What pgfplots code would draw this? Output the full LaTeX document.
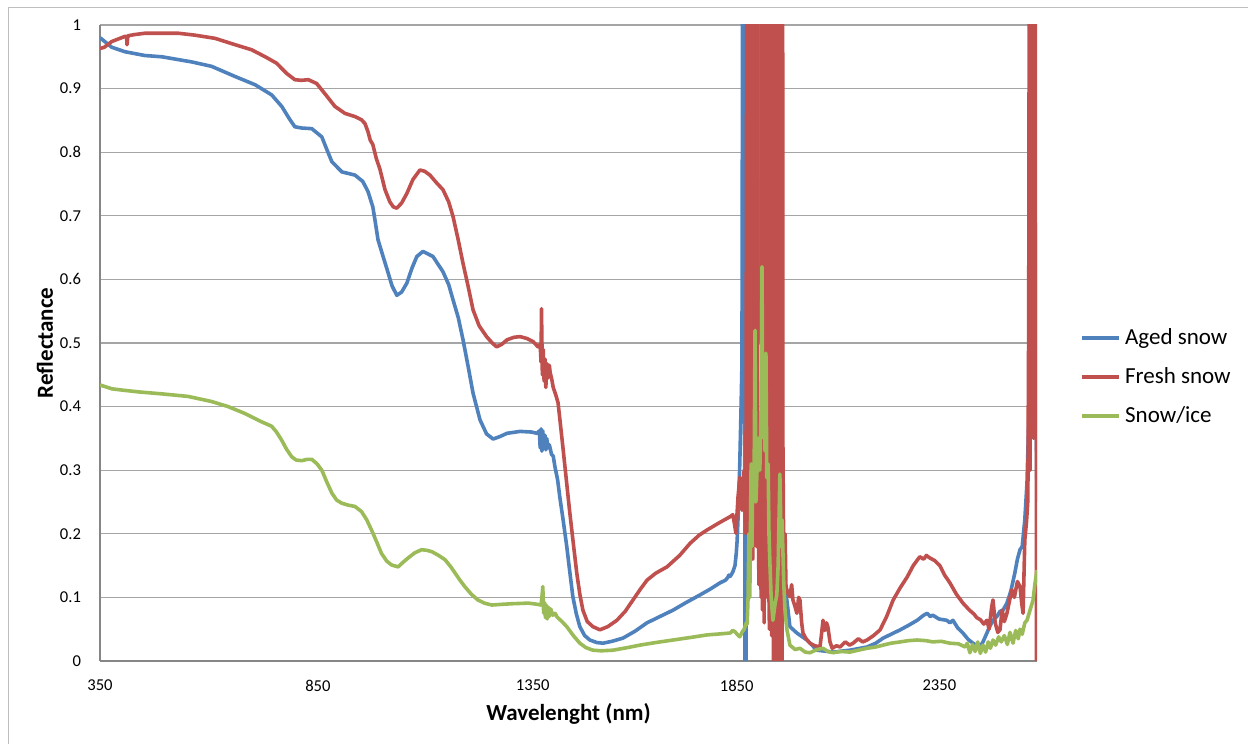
\documentclass[border=0pt]{standalone}
\usepackage{fontspec}
\setmainfont{Carlito}
\usepackage{pgfplots}
\pgfplotsset{compat=1.18}
\definecolor{aged}{RGB}{79,129,189}
\definecolor{fresh}{RGB}{192,80,77}
\definecolor{ice}{RGB}{155,187,89}
\definecolor{gridc}{RGB}{165,165,165}
\definecolor{axc}{RGB}{134,134,134}
\definecolor{framec}{RGB}{190,190,190}
\begin{document}
\begin{tikzpicture}
\path[use as bounding box] (0,0) rectangle (624pt,372pt);
\draw[framec, line width=0.6pt] (4.25pt,0) -- (4.25pt,368.25pt) -- (624pt,368.25pt);
\begin{axis}[
  at={(50pt,41.5pt)}, anchor=south west,
  scale only axis, width=468.5pt, height=318pt,
  xmin=350, xmax=2500, ymin=0, ymax=1,
  axis x line=bottom, axis y line=left,
  axis line style={-, draw=axc, line width=0.6pt},
  xtick={350,850,1343,1811,2276}, xticklabels={350,850,1350,1850,2350},
  ytick={0,0.1,0.2,0.3,0.4,0.5,0.6,0.7,0.8,0.9,1},
  yticklabels={0,0.1,0.2,0.3,0.4,0.5,0.6,0.7,0.8,0.9,1},
  major tick length=0pt,
  ymajorgrids, grid style={draw=gridc, line width=0.6pt},
  /pgf/number format/assume math mode=true,
  tick label style={font=\fontsize{8.3}{10}\selectfont},
  xticklabel style={yshift=-6pt}, yticklabel style={xshift=-6pt},
  xlabel={Wavelenght (nm)}, ylabel={Reflectance},
  label style={font=\fontsize{11.5}{13}\selectfont\bfseries},
  xlabel style={at={(rel axis cs:0.5,-0.0928)}, anchor=base},
  ylabel style={at={(rel axis cs:-0.0502,0.5)}, anchor=base},
  legend style={at={(rel axis cs:1.046,0.4465)}, anchor=west, draw=none, fill=none,
    font=\fontsize{11.5}{13}\selectfont, row sep=6pt, inner sep=0pt},
  legend cell align=left,
  legend image code/.code={\draw[#1] (0pt,0pt) -- (18.5pt,0pt);},
  every axis plot/.append style={line width=1.8pt, line join=round},
  clip=true,
]
\addplot[aged] coordinates {
(350,0.980) (377,0.965) (407,0.958) (453,0.952) (492,0.950) (560,0.942) (606,0.935) (660,0.919) (706,0.906) (744,0.890) (767,0.872) (785,0.852) (797,0.840) (813,0.838) (836,0.837) (859,0.824) (870,0.805) (882,0.785) (905,0.769) (935,0.764) (953,0.754) (965,0.738) (976,0.714) (981,0.693) (988,0.662) (1000,0.635) (1009,0.615) (1020,0.590) (1031,0.575) (1042,0.580) (1054,0.594) (1066,0.618) (1077,0.636) (1091,0.644) (1114,0.636) (1137,0.612) (1150,0.592) (1160,0.568) (1172,0.540) (1183,0.505) (1195,0.462) (1206,0.421) (1222,0.379) (1237,0.357) (1252,0.349) (1268,0.353) (1284,0.358) (1314,0.361) (1340,0.360) (1353,0.358) (1358,0.362) (1360,0.335) (1362,0.365) (1364,0.330) (1366,0.362) (1368,0.338) (1371,0.355) (1373,0.332) (1375,0.350) (1378,0.335) (1381,0.340) (1386,0.325) (1390,0.322) (1394,0.305) (1400,0.285) (1405,0.258) (1413,0.220) (1421,0.180) (1428,0.140) (1435,0.101) (1443,0.074) (1451,0.054) (1462,0.040) (1474,0.033) (1490,0.029) (1504,0.028) (1525,0.031) (1550,0.036) (1578,0.047) (1605,0.060) (1635,0.070) (1665,0.080) (1695,0.092) (1727,0.104) (1750,0.113) (1773,0.123) (1785,0.127) (1790,0.131) (1793,0.135) (1796,0.133) (1802,0.140) (1807,0.150) (1810,0.170) (1812,0.190) (1816,0.260) (1818,0.311) (1821,0.400) (1823,0.468) (1825,1.300) (1828,1.300) (1830,-0.100) (1832,-0.100) (1835,1.300) (1839,0.700) (1841,1.300) (1846,1.300) (1851,0.800) (1857,1.200) (1860,1.300) (1862,0.920) (1864,0.500) (1867,0.700) (1871,0.450) (1876,0.600) (1883,0.420) (1887,0.300) (1894,0.190) (1899,0.250) (1906,0.170) (1910,0.148) (1917,0.125) (1926,0.096) (1933,0.054) (1949,0.044) (1972,0.033) (1995,0.017) (2032,0.014) (2071,0.017) (2110,0.022) (2130,0.028) (2147,0.036) (2165,0.042) (2186,0.049) (2205,0.056) (2225,0.064) (2240,0.072) (2248,0.075) (2255,0.070) (2261,0.072) (2275,0.066) (2293,0.064) (2300,0.060) (2307,0.064) (2318,0.052) (2330,0.044) (2342,0.034) (2353,0.028) (2362,0.024) (2369,0.022) (2376,0.030) (2385,0.044) (2392,0.055) (2399,0.064) (2408,0.070) (2415,0.078) (2422,0.080) (2431,0.091) (2440,0.110) (2449,0.138) (2455,0.160) (2461,0.175) (2466,0.180) (2472,0.222) (2477,0.280) (2484,0.450) (2488,0.600) (2491,1.200) (2495,0.800) (2498,0.400) (2500,0.250)
};
\addlegendentry{Aged snow}
\addplot[fresh] coordinates {
(350,0.963) (360,0.965) (377,0.974) (392,0.978) (407,0.982) (411,0.982) (412,0.969) (414,0.983) (430,0.985) (453,0.987) (490,0.987) (530,0.987) (568,0.984) (614,0.979) (660,0.969) (698,0.961) (729,0.950) (755,0.940) (778,0.924) (797,0.914) (812,0.913) (828,0.914) (847,0.908) (866,0.892) (889,0.872) (912,0.861) (935,0.856) (950,0.851) (958,0.845) (965,0.832) (970,0.819) (976,0.812) (984,0.790) (992,0.774) (1004,0.741) (1015,0.722) (1023,0.714) (1031,0.712) (1042,0.720) (1054,0.735) (1068,0.757) (1084,0.772) (1095,0.770) (1107,0.764) (1122,0.752) (1137,0.741) (1150,0.722) (1160,0.699) (1172,0.662) (1183,0.625) (1195,0.588) (1206,0.552) (1220,0.527) (1237,0.510) (1250,0.500) (1260,0.494) (1272,0.498) (1284,0.505) (1300,0.509) (1314,0.510) (1330,0.507) (1344,0.502) (1355,0.494) (1360,0.498) (1362,0.470) (1363,0.554) (1365,0.450) (1367,0.490) (1369,0.440) (1371,0.475) (1373,0.430) (1375,0.468) (1378,0.445) (1381,0.465) (1383,0.453) (1386,0.445) (1390,0.430) (1396,0.418) (1401,0.406) (1406,0.375) (1412,0.337) (1420,0.285) (1428,0.233) (1436,0.185) (1444,0.138) (1451,0.105) (1458,0.080) (1468,0.062) (1481,0.054) (1497,0.049) (1515,0.054) (1536,0.064) (1555,0.078) (1573,0.096) (1590,0.113) (1605,0.127) (1625,0.138) (1651,0.148) (1680,0.166) (1704,0.185) (1725,0.198) (1743,0.206) (1770,0.217) (1796,0.227) (1802,0.230) (1806,0.215) (1809,0.201) (1812,0.235) (1814,0.258) (1818,0.289) (1821,0.260) (1823,0.237) (1826,0.280) (1828,0.300) (1830,0.250) (1832,0.200)
(1835,1.5) (1836,0.22) (1837,1.5) (1838,0.30) (1839,1.5) (1840,0.18) (1841,1.5) (1842,0.25) (1843,1.5) (1844,0.20) (1845,1.5) (1846,0.30) (1847,1.5) (1848,0.16) (1849,1.5) (1850,0.25) (1851,1.5) (1852,0.20) (1853,1.5) (1854,0.30) (1855,1.5) (1856,0.18) (1857,1.5) (1858,0.30)
(1860,0.25) (1862,0.12) (1864,0.28) (1867,0.10)
(1869,1.5) (1870,0.08) (1871,1.5) (1872,0.15) (1873,1.5) (1874,0.06) (1875,1.5) (1876,0.20) (1877,1.5) (1878,0.10) (1879,1.5) (1880,0.15) (1881,1.5) (1882,0.12)
(1884,0.15) (1886,0.05)
(1888,1.5) (1889,0.10) (1890,1.5) (1891,0.04) (1892,1.5) (1893,0.20) (1894,1.5) (1895,-0.1) (1896,1.5) (1897,0.30) (1898,1.5) (1899,0.05) (1900,1.5) (1901,0.15) (1902,1.5) (1903,-0.1) (1904,1.5) (1905,0.25) (1906,1.5) (1907,0.08) (1908,1.5) (1909,0.30) (1910,1.5) (1911,-0.1) (1912,1.5) (1913,0.12) (1914,1.5) (1915,-0.1) (1916,1.5)
(1917,0.34) (1919,0.143) (1922,0.200) (1924,0.117) (1929,0.105) (1933,0.101) (1937,0.120) (1940,0.096) (1945,0.085) (1949,0.075) (1953,0.100) (1956,0.096) (1960,0.060) (1963,0.044) (1970,0.035) (1979,0.028) (1990,0.024) (2002,0.022) (2006,0.045) (2009,0.064) (2013,0.048) (2017,0.060) (2020,0.054) (2025,0.030) (2030,0.020) (2040,0.024) (2048,0.022) (2060,0.030) (2070,0.025) (2078,0.028) (2090,0.035) (2100,0.030) (2110,0.033) (2125,0.040) (2140,0.049) (2155,0.070) (2170,0.096) (2186,0.115) (2202,0.132) (2216,0.150) (2231,0.164) (2240,0.160) (2246,0.166) (2254,0.162) (2265,0.158) (2277,0.150) (2288,0.135) (2300,0.123) (2315,0.105) (2330,0.091) (2345,0.080) (2355,0.074) (2362,0.068) (2370,0.065) (2378,0.058) (2385,0.064) (2390,0.050) (2396,0.085) (2399,0.096) (2404,0.060) (2410,0.045) (2415,0.049) (2420,0.080) (2425,0.062) (2431,0.075) (2437,0.095) (2442,0.112) (2448,0.100) (2455,0.125) (2461,0.117) (2465,0.090) (2468,0.075) (2472,0.190) (2476,0.220) (2479,0.253) (2481,0.550) (2483,1.5) (2484,0.30) (2485,1.5) (2486,0.50) (2487,1.5) (2488,0.40) (2489,1.5) (2490,0.45) (2491,1.5) (2492,0.35) (2493,1.5) (2494,0.50) (2495,1.5) (2496,0.40) (2497,1.5) (2499,-0.1) (2500,-0.1)
};
\addlegendentry{Fresh snow}
\addplot[ice] coordinates {
(350,0.434) (377,0.428) (400,0.426) (440,0.423) (492,0.420) (552,0.416) (606,0.408) (644,0.400) (683,0.389) (721,0.376) (744,0.369) (755,0.360) (767,0.347) (778,0.333) (790,0.321) (800,0.316) (813,0.315) (825,0.317) (836,0.317) (848,0.310) (859,0.300) (870,0.282) (882,0.264) (893,0.253) (905,0.248) (920,0.245) (935,0.243) (950,0.235) (962,0.222) (973,0.206) (985,0.187) (996,0.169) (1008,0.157) (1019,0.151) (1034,0.148) (1045,0.155) (1057,0.162) (1072,0.170) (1088,0.175) (1100,0.174) (1111,0.172) (1127,0.166) (1142,0.159) (1155,0.148) (1165,0.138) (1176,0.127) (1187,0.117) (1202,0.105) (1217,0.096) (1232,0.091) (1249,0.088) (1270,0.089) (1294,0.090) (1333,0.091) (1355,0.089) (1362,0.088) (1364,0.100) (1366,0.117) (1368,0.075) (1370,0.092) (1372,0.068) (1374,0.088) (1376,0.066) (1378,0.085) (1381,0.070) (1384,0.082) (1389,0.072) (1394,0.075) (1399,0.069) (1410,0.062) (1421,0.054) (1436,0.040) (1451,0.028) (1465,0.021) (1481,0.017) (1500,0.016) (1527,0.017) (1560,0.021) (1589,0.025) (1625,0.029) (1665,0.033) (1705,0.037) (1743,0.041) (1780,0.043) (1796,0.044) (1802,0.048) (1807,0.046) (1812,0.042) (1818,0.038) (1823,0.045) (1828,0.050) (1830,0.054) (1833,0.060) (1835,0.058) (1837,0.10) (1839,0.20) (1841,0.10) (1844,0.31) (1846,0.18) (1848,0.306) (1851,0.30) (1853,0.52) (1855,0.25) (1857,0.288) (1860,0.35) (1862,0.333) (1864,0.30) (1867,0.40) (1869,0.62) (1871,0.352) (1874,0.40) (1876,0.33) (1878,0.484) (1880,0.288) (1883,0.31) (1885,0.20) (1887,0.156) (1890,0.10) (1894,0.064) (1899,0.09) (1903,0.104) (1906,0.15) (1910,0.294) (1913,0.18) (1915,0.222) (1919,0.12) (1922,0.077) (1926,0.05) (1933,0.025) (1945,0.018) (1956,0.020) (1968,0.014) (1979,0.013) (1995,0.018) (2009,0.020) (2020,0.015) (2032,0.013) (2050,0.015) (2071,0.014) (2090,0.017) (2110,0.020) (2130,0.022) (2147,0.025) (2165,0.028) (2186,0.030) (2205,0.032) (2225,0.033) (2245,0.032) (2261,0.030) (2280,0.031) (2300,0.028) (2320,0.027) (2335,0.022) (2340,0.028) (2346,0.013) (2352,0.026) (2358,0.015) (2364,0.030) (2370,0.012) (2376,0.025) (2382,0.014) (2388,0.030) (2393,0.020) (2399,0.033) (2405,0.025) (2412,0.038) (2418,0.030) (2425,0.040) (2432,0.026) (2438,0.045) (2445,0.028) (2451,0.048) (2457,0.035) (2461,0.050) (2466,0.042) (2472,0.060) (2477,0.064) (2484,0.080) (2491,0.096) (2495,0.120) (2500,0.143)
};
\addlegendentry{Snow/ice}
\end{axis}
\end{tikzpicture}
\end{document}
